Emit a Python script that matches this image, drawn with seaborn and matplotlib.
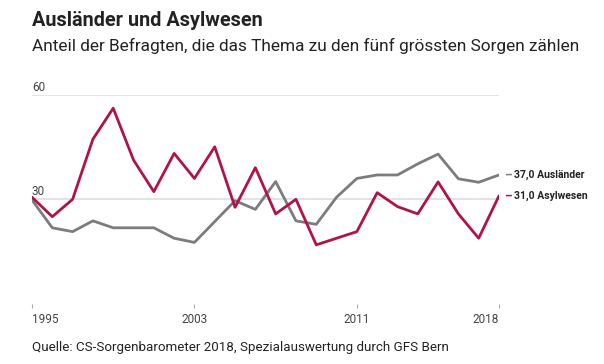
import pandas as pd
import seaborn as sns
from matplotlib import pyplot as plt

# DATA
years = list(range(1995, 2019))
auslaender = [29.8, 21.8, 20.7, 23.8, 21.8, 21.8, 21.8, 18.8, 17.6, 23.6, 29.6, 27.1,
              35.1, 23.8, 22.8, 30.6, 36.0, 37.0, 37.0, 40.2, 43.0, 35.9, 34.9, 37.0]
asylwesen = [30.6, 25.0, 30.0, 47.3, 56.2, 41.3, 32.2, 43.2, 36.0, 45.1, 27.7, 39.1,
             25.8, 30.0, 16.9, 18.8, 20.7, 31.9, 27.9, 25.8, 35.0, 25.8, 18.8, 31.0]
series_names = ['Ausländer', 'Asylwesen']
colors = {'Ausländer': '#7c7c7c', 'Asylwesen': '#b0134a'}
x_ticks = [1995, 2003, 2011, 2018]
y_ticks = [30, 60]

title = 'Ausländer und Asylwesen'
subtitle = 'Anteil der Befragten, die das Thema zu den fünf grössten Sorgen zählen'
source = 'Quelle: CS-Sorgenbarometer 2018, Spezialauswertung durch GFS Bern'

df = pd.DataFrame({'Jahr': years * 2,
                   'Wert': auslaender + asylwesen,
                   'Serie': [series_names[0]] * len(years) + [series_names[1]] * len(years)})

sns.set_style('white')
plt.rcParams['font.family'] = ['Roboto', 'DejaVu Sans']
txt = '#222222'

fig = plt.figure(figsize=(6.04, 3.64), dpi=100)
ax = fig.add_axes([32/604, 1 - 303.6/364, 467/604, 208.6/364])

for yv in y_ticks:
    ax.axhline(yv, color='#e3e3e3', lw=1.4, zorder=0)
    ax.text(years[0], yv + 0.4, str(yv), fontsize=8.5, color='#444444', va='bottom', ha='left')

sns.lineplot(data=df, x='Jahr', y='Wert', hue='Serie', palette=colors, lw=2.0,
             ax=ax, legend=False, zorder=3)

ax.set_xlim(years[0], years[-1])
ax.set_ylim(0, 60)
ax.set_yticks([])
ax.set_xticks(x_ticks)
ax.set_xticklabels([str(t) for t in x_ticks], fontsize=8.5, color='#444444')
labs = ax.get_xticklabels()
labs[0].set_ha('left')
labs[-1].set_ha('right')
ax.tick_params(axis='x', length=3, width=0.8, color='#aaaaaa', pad=4, bottom=True)
ax.set_xlabel('')
ax.set_ylabel('')
for s in ax.spines.values():
    s.set_visible(False)

# end labels
ends = {'Ausländer': auslaender[-1], 'Asylwesen': asylwesen[-1]}
for name, val in ends.items():
    ax.annotate('–', xy=(years[-1], val), xytext=(4, 0), textcoords='offset points',
                color=colors[name], fontsize=8.5, fontweight='bold', va='center', ha='left',
                annotation_clip=False)
    ax.annotate(f'{val:.1f}'.replace('.', ',') + ' ' + name, xy=(years[-1], val),
                xytext=(11, 0), textcoords='offset points', color=txt, fontsize=7.5,
                fontweight='bold', va='center', ha='left', annotation_clip=False)

fig.text(32/604, 1 - 20/364, title, fontsize=14.3, fontweight='bold', color=txt, va='center')
fig.text(32/604, 1 - 46/364, subtitle, fontsize=12.4, color=txt, va='center')
fig.text(32/604, 1 - 347/364, source, fontsize=9.6, color=txt, va='center')

plt.savefig('out.png', dpi=100)
